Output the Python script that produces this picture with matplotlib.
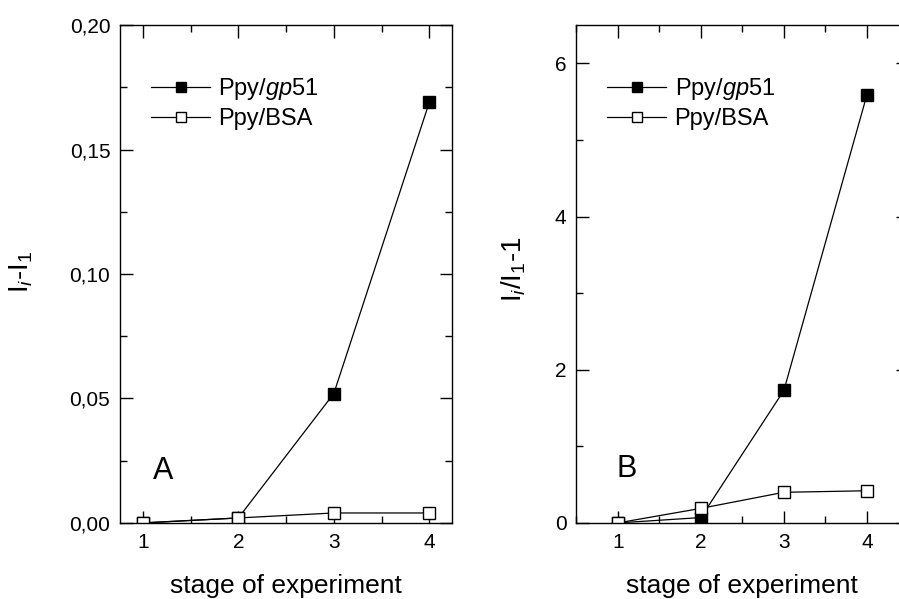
import matplotlib
matplotlib.use('Agg')
import matplotlib.pyplot as plt
from matplotlib.ticker import MultipleLocator, FuncFormatter

plt.rcParams['font.family'] = ['Liberation Sans', 'DejaVu Sans']
plt.rcParams['mathtext.fontset'] = 'custom'
plt.rcParams['mathtext.rm'] = 'Liberation Sans'
plt.rcParams['mathtext.it'] = 'Liberation Sans:italic'

# Data: response at each stage of the experiment
stages = [1, 2, 3, 4]
diff_gp51 = [0.0, 0.002, 0.052, 0.169]
diff_bsa = [0.0, 0.002, 0.004, 0.004]
ratio_gp51 = [0.0, 0.07, 1.73, 5.59]
ratio_bsa = [0.0, 0.19, 0.40, 0.42]

fig = plt.figure(figsize=(8.99, 5.99), dpi=100)
ax1 = fig.add_axes([0.1335, 0.127, 0.3695, 0.831])
ax2 = fig.add_axes([0.641, 0.127, 0.3695, 0.831])


def style_axis(ax):
    ax.tick_params(which='both', direction='in', top=True, right=True, labelsize=15, width=1)
    ax.tick_params(which='major', length=9, pad=7)
    ax.tick_params(which='minor', length=5)
    ax.xaxis.set_major_locator(MultipleLocator(1))
    ax.xaxis.set_minor_locator(MultipleLocator(0.5))
    for s in ax.spines.values():
        s.set_linewidth(1)
    ax.set_xlabel('stage of experiment', fontsize=19)
    ax.xaxis.set_label_coords(0.5, -0.102)


def draw(ax, y1, y2):
    ax.plot(stages, y1, color='black', lw=0.9, marker='s', ms=8.5,
            mfc='black', mec='black', label='Ppy/$\\mathit{gp}$51')
    ax.plot(stages, y2, color='black', lw=0.9, marker='s', ms=8.5,
            mfc='white', mec='black', mew=1, label='Ppy/BSA')
    ax.legend(loc='upper left', frameon=False, fontsize=17, handlelength=2.5,
              handletextpad=0.35, labelspacing=0.25, markerscale=0.8,
              borderaxespad=0, bbox_to_anchor=(0.065, 0.917))


# Panel A: difference
draw(ax1, diff_gp51, diff_bsa)
style_axis(ax1)
ax1.set_xlim(0.76, 4.24)
ax1.set_ylim(0, 0.2)
ax1.yaxis.set_major_locator(MultipleLocator(0.05))
ax1.yaxis.set_minor_locator(MultipleLocator(0.025))
ax1.yaxis.set_major_formatter(FuncFormatter(lambda v, p: f'{v:.2f}'.replace('.', ',')))
ax1.set_ylabel('I$_i$-I$_1$', fontsize=20)
ax1.yaxis.set_label_coords(-0.255, 0.504)
ax1.text(1.21, 0.021, 'A', fontsize=22, ha='center', va='center')

# Panel B: ratio
draw(ax2, ratio_gp51, ratio_bsa)
style_axis(ax2)
ax2.set_xlim(0.5, 4.5)
ax2.set_ylim(0, 6.5)
ax2.yaxis.set_major_locator(MultipleLocator(2))
ax2.yaxis.set_minor_locator(MultipleLocator(1))
ax2.set_ylabel('I$_i$/I$_1$-1', fontsize=20)
ax2.yaxis.set_label_coords(-0.145, 0.51)
ax2.text(1.11, 0.70, 'B', fontsize=22, ha='center', va='center')

fig.savefig('out.png', dpi=100)
